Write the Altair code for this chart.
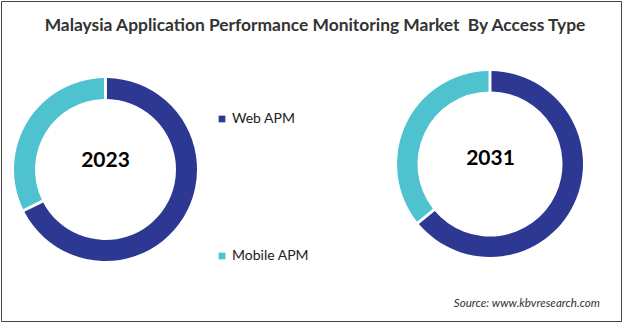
import altair as alt
import pandas as pd

years = ["2023", "2031"]
segments = ["Web APM", "Mobile APM"]
web_share = [67.6, 64.1]
mobile_share = [32.4, 35.9]
colors = ["#2C3891", "#4EC3CF"]
title_text = "Malaysia Application Performance Monitoring Market\u00a0 By Access Type"
source_text = "Source: www.kbvresearch.com"

rows = []
for i, yr in enumerate(years):
    rows.append({"year": yr, "segment": segments[0], "share": web_share[i], "order": 0})
    rows.append({"year": yr, "segment": segments[1], "share": mobile_share[i], "order": 1})
df = pd.DataFrame(rows)

FONT = "Lato"

legend = alt.Legend(
    title=None, orient="none", legendX=214, legendY=111,
    symbolType="square", symbolSize=45, labelFontSize=14, labelFont=FONT,
    labelColor="#222", rowPadding=123, symbolStrokeWidth=0, labelOffset=3,
)
color = alt.Color("segment:N", scale=alt.Scale(domain=segments, range=colors), legend=legend)

base = alt.Chart(df)

def donut(yr, cx, cy, r_out, r_in):
    return base.transform_filter(alt.datum.year == yr).mark_arc(
        outerRadius=r_out, innerRadius=r_in, padAngle=0.025
    ).encode(
        theta=alt.Theta("share:Q", stack=True),
        order=alt.Order("order:Q"),
        color=color,
        x=alt.value(cx), y=alt.value(cy),
    )

d1 = donut("2023", 104.5, 168.5, 91.5, 70.5)
d2 = donut("2031", 489, 163, 93, 72.5)

year_df = pd.DataFrame({"year": years})
lab1 = alt.Chart(year_df).transform_filter(alt.datum.year == "2023").mark_text(
    font=FONT, fontSize=21, fontWeight="bold", color="#000"
).encode(text="year:N", x=alt.value(104.5), y=alt.value(160))
lab2 = alt.Chart(year_df).transform_filter(alt.datum.year == "2031").mark_text(
    font=FONT, fontSize=21, fontWeight="bold", color="#000"
).encode(text="year:N", x=alt.value(489.5), y=alt.value(158))

tdf = pd.DataFrame({"t": [title_text]})
title = alt.Chart(tdf).mark_text(
    font=FONT, fontSize=17.4, fontWeight="bold", color="#333"
).encode(text="t:N", x=alt.value(314), y=alt.value(25))

sdf = pd.DataFrame({"t": [source_text]})
source = alt.Chart(sdf).mark_text(
    font=FONT, fontSize=11.6, fontStyle="italic", color="#333", align="right"
).encode(text="t:N", x=alt.value(599), y=alt.value(303))

chart = alt.layer(d1, d2, lab1, lab2, title, source).properties(
    width=620, height=320,
    padding={"left": 1, "top": 1, "right": 1, "bottom": 3},
    autosize=alt.AutoSizeParams(type="none"),
    background="white",
).configure_view(stroke="#444", strokeWidth=1)

chart.save("out.html", embed_options={"renderer": "svg", "actions": False})
